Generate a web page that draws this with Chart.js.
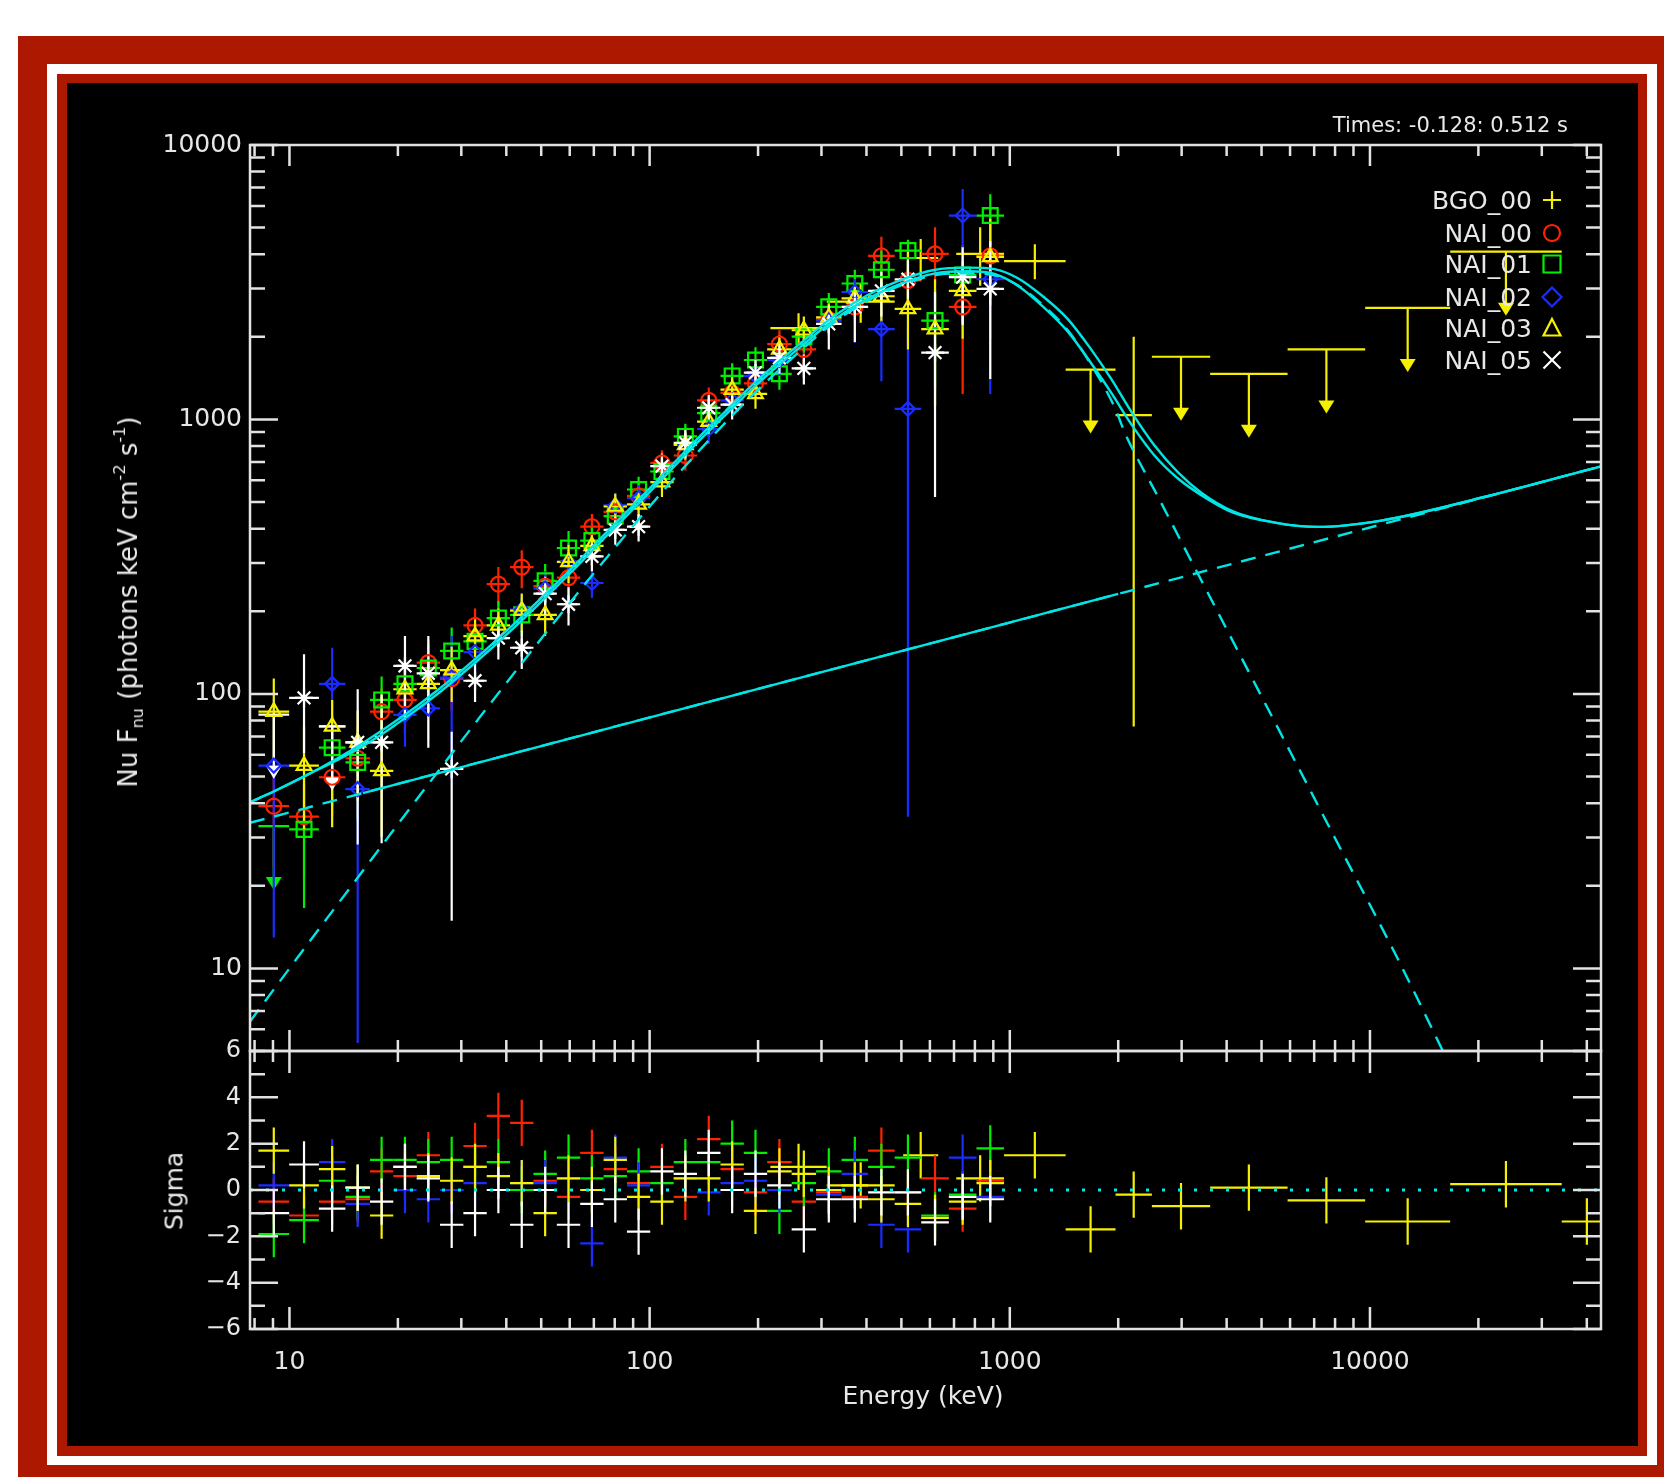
<!DOCTYPE html>
<html><head><meta charset="utf-8">
<script src="https://cdn.jsdelivr.net/npm/chart.js@4.4.0/dist/chart.umd.min.js"></script>
<style>
html,body{margin:0;padding:0;background:#fff;}
#page{position:relative;width:1664px;height:1477px;overflow:hidden;background:#fff;font-family:"DejaVu Sans",sans-serif;}
.f{position:absolute;}
canvas{position:absolute;left:0;top:0;}
.t{position:absolute;white-space:nowrap;color:#e8e8e8;line-height:1;}
sub,sup{font-size:62%;line-height:0;}
sub{vertical-align:-0.35em;} sup{vertical-align:0.75em;}
</style></head>
<body><div id="page">
<div class="f" style="left:18px;top:36px;width:1646px;height:1441px;background:#ad1900"></div>
<div class="f" style="left:47px;top:64px;width:1610px;height:1401px;background:#fff"></div>
<div class="f" style="left:57px;top:74px;width:1590px;height:1382px;background:#ad1900"></div>
<div class="f" style="left:67px;top:83px;width:1571px;height:1363px;background:#000"></div>
<canvas id="main" width="1664" height="1477"></canvas>
<canvas id="resid" width="1664" height="1477"></canvas>
<div class="t" style="right:96px;top:115px;font-size:21px;">Times: -0.128: 0.512 s</div>
<div class="t" style="right:132px;top:188px;font-size:25px;">BGO_00</div>
<div class="t" style="right:132px;top:221px;font-size:25px;">NAI_00</div>
<div class="t" style="right:132px;top:252px;font-size:25px;">NAI_01</div>
<div class="t" style="right:132px;top:285px;font-size:25px;">NAI_02</div>
<div class="t" style="right:132px;top:316px;font-size:25px;">NAI_03</div>
<div class="t" style="right:132px;top:348px;font-size:25px;">NAI_05</div>
<div class="t" style="left:128px;top:602px;transform:translate(-50%,-50%) rotate(-90deg);font-size:26px;">Nu F<sub>nu</sub> (photons keV cm<sup>-2</sup> s<sup>-1</sup>)</div>
<div class="t" style="left:174px;top:1191px;transform:translate(-50%,-50%) rotate(-90deg);font-size:25px;">Sigma</div>
<div class="t" style="left:923px;top:1383px;transform:translateX(-50%);font-size:25px;">Energy (keV)</div>
</div>
<script>
// ---------------- data ----------------
const xTickLabels = [10, 100, 1000, 10000];
const yTickLabels = [10, 100, 1000, 10000];
const residTickLabels = [-6, -4, -2, 0, 2, 4, 6];
const xRange = [7.77, 43800];
const yRange = [5, 10000];
const residRange = [-6, 6];

// NaI energy bin edges (keV)
const naiEdges = [8.2, 9.98, 12.07, 14.30, 16.73, 19.42, 22.55, 26.18, 30.40, 35.29, 40.97, 47.58, 55.26, 64.16, 74.50, 86.50, 100.4, 116.6, 135.4, 157.3, 182.6, 212.0, 247.9, 289.8, 341.1, 404.2, 479.0, 567.6, 677.3, 808.1, 963.9];

// rows: [bin, flux, fluxLow, fluxHigh, sigma]   (fluxLow null => upper limit)
const nai00 = [
 [0,39.0,23.3,50.1,-0.5],[1,35.7,21.5,49.7,-1.1],[2,49.7,35.7,60.9,-0.5],[3,58.3,35.7,76.2,-0.4],
 [4,86.2,66.0,104.9,0.8],[5,95.1,72.8,115.7,0.6],[6,130.0,99.5,158.2,1.5],[7,113.7,87.0,138.4,0.0],
 [8,177.6,148.6,204.8,1.9],[9,251.4,210.4,289.8,3.2],[10,289.8,242.5,334.1,2.9],[11,246.9,206.6,284.7,0.4],
 [12,265.1,221.8,305.7,-0.3],[13,406.7,358.9,452.7,1.6],[14,460.6,406.5,512.7,0.9],[15,526.5,464.7,586.0,0.3],
 [16,694.2,612.7,772.6,1.0],[17,739,652.3,822.5,-0.3],[18,1174,1036,1307,2.2],[19,1250,1103,1391,0.9],
 [20,1354,1195,1507,-0.1],[21,1883,1647,2115,1.2],[22,1800,1575,2021,-0.5],[23,2312,2023,2596,-0.1],
 [24,2572,2250,2888,-0.3],[25,3944,3183,4630,1.7],[26,3213,2593,3772,-0.1],[27,4014,3073,5016,0.5],
 [28,2572,1239,3242,-0.8],[29,3944,1968,5946,0.4]
];
const nai01 = [
 [0,33.0,null,null,-1.9],[1,32.1,16.6,46.7,-1.3],[2,63.7,39.0,83.3,0.4],[3,56.3,34.5,73.6,-0.3],
 [4,95.1,72.8,115.7,1.3],[5,108.8,83.2,132.4,1.3],[6,124.3,95.1,151.3,1.2],[7,143.4,109.7,174.5,1.3],
 [8,155.4,130.0,179.2,1.0],[9,189.0,158.2,217.9,1.2],[10,194.1,162.4,223.8,0.0],[11,258.2,216.1,297.7,0.7],
 [12,340.2,284.7,392.3,1.4],[13,362.1,319.6,403.0,0.5],[14,444.6,392.3,494.8,0.6],[15,555.6,490.4,618.4,0.8],
 [16,646.3,570.4,719.3,0.3],[17,867.4,765.6,965.5,1.2],[18,1055,931.2,1174,1.2],[19,1441,1272,1604,2.0],
 [20,1647,1454,1833,1.6],[21,1467,1283,1648,-0.9],[22,2003,1752,2249,0.3],[23,2572,2250,2888,0.8],
 [24,3129,2738,3514,1.3],[25,3512,2835,4123,1.0],[26,4124,2737,4514,1.4],[27,2291,1294,2991,-1.1],
 [28,3360,2249,4314,-0.2],[29,5534,4312,6618,1.8]
];
const nai02 = [
 [0,54.8,12.95,95.9,0.2],[2,108.8,46.3,147.3,1.2],[3,45.0,5.35,66.6,-0.6],[5,83.9,64.2,102.1,0.0],
 [6,88.6,67.8,107.8,-0.4],[7,114.7,48.8,162.4,0.0],[8,142.1,118.9,163.8,0.3],[10,202.9,169.8,233.9,0.3],
 [11,242.5,202.9,279.6,0.3],[12,303.0,253.6,349.4,0.5],[13,253.6,223.8,282.2,-2.3],[14,486,429,541,1.4],
 [15,517.2,456.5,575.6,0.2],[17,807.5,712.7,898.7,0.5],[18,923,814.7,1027,-0.1],[19,1174,1036,1307,0.3],
 [20,1441,1272,1604,0.4],[21,1647,1441,1850,0.0],[23,2291,2004,2573,-0.2],[24,2913,1900,3242,0.7],
 [25,2133,1378,2460,-1.5],[26,1093,35.7,2191,-1.7],[28,5534,4087,6912,1.4],[29,3242,1239,4014,-0.3]
];
const nai03 = [
 [0,86.2,58.3,113.7,1.7],[1,54.8,32.1,76.1,0.2],[2,76.1,32.7,95.1,0.9],[3,66.6,40.8,87.0,0.1],
 [4,52.4,30.2,97.7,-1.1],[5,104.0,79.6,126.6,1.0],[6,108.8,83.2,132.4,0.6],[7,122.1,93.4,148.6,0.4],
 [8,162.4,135.9,187.2,1.0],[9,177.6,148.6,204.8,0.6],[10,201.1,168.3,231.9,0.3],[11,194.1,162.4,223.8,-1.0],
 [12,303.0,253.6,349.4,0.5],[13,346.3,305.6,385.4,0.0],[14,481.7,425.1,536.0,1.3],[15,490.3,432.8,545.8,-0.3],
 [16,591.1,521.6,658.0,-0.5],[17,807.5,712.7,898.7,0.5],[18,982,867,1093,0.5],[19,1284,1133,1429,1.1],
 [20,1239,1094,1379,-0.9],[21,1800,1575,2021,0.8],[22,2114,1850,2374,0.7],[23,2353,2059,2642,0.0],
 [24,2762,2416,3102,0.2],[25,2811,2269,3300,-0.4],[26,2527,1800,4087,-0.6],[27,2133,1123,3242,-1.2],
 [28,2939,1967,3774,-0.5],[29,3909,2595,5388,0.3]
];
const nai05 = [
 [0,84.0,null,null,-1.0],[1,96.8,60.9,139.6,1.1],[2,76.1,null,null,-0.8],[3,66.6,28.3,104.0,0.1],
 [4,66.6,28.6,99.5,-0.5],[5,126.6,78.9,162.4,1.0],[6,118.9,63.7,162.4,0.5],[7,53.3,14.9,72.8,-1.5],
 [8,111.7,93.5,128.8,-1.0],[9,159.6,133.5,184.0,0.0],[10,147.3,123.3,169.8,-1.5],[11,231.9,194.1,267.4,0.0],
 [12,212.2,177.6,244.7,-1.5],[13,316.8,279.6,352.6,-0.6],[14,395.9,349.4,440.6,-0.4],[15,406.7,359.0,452.7,-1.8],
 [16,675.7,596.3,752.0,0.8],[17,822,725.5,915,0.7],[18,1103,973.5,1228,1.6],[19,1133,1000,1261,0.0],
 [20,1481,1307,1648,0.7],[21,1677,1467,1883,0.2],[22,1534,1342,1723,-1.7],[23,2230,1800,2597,-0.4],
 [24,2572,1917,3073,-0.4],[25,2939,2372,3450,-0.1],[26,3242,2617,3806,-0.1],[27,1753,521.9,2913,-1.4],
 [28,3301,2209,4238,-0.3],[29,2992,1403,4468,-0.4]
];
// BGO rows: [eLow, eHigh, flux, fluxLow, fluxHigh, sigma]
const bgo00 = [
 [216.4,310.2,2152,1866,2438,1.0],[310.2,479.0,2689,2250,3129,0.2],[505.7,632.8,3875,3213,4547,1.5],
 [710.2,963.9,4014,3073,5016,0.5],[963.9,1429,3773,3242,4350,1.5],[1429,1966,1520,null,null,-1.7],
 [1966,2480,1037,76.1,2003,-0.2],[2480,3600,1692,null,null,-0.7],[3600,5906,1467,null,null,0.1],
 [5906,9699,1800,null,null,-0.45],[9699,16700,2549,null,null,-1.36],[16700,34070,4087,null,null,0.25],
 [34070,47000,null,null,null,-1.36]
];

// model curves
const modelE = [7.77,9.07,11.3,13.6,15.8,17.8,20.1,22.7,25.5,29.2,33.0,37.3,42.4,48.6,55.6,63.7,73.0,85.3,100.4,117.4,137.3,161.6,190.2,223.8,263,325,403,499,616,765,907,1053,1223,1449,1682,1914,2178,2529,2936,3409,4150,5447,7145,10740,21180,43800];
const totalA = [40.3,44.2,51.0,58.3,65.6,72.6,81.0,90.8,102,117.8,135,155.7,181.8,215.4,256,306,368.6,452.6,564,698.8,863.6,1064,1314,1591,1900,2380,2840,3225,3505,3575,3531,3270,2840,2321,1800,1403,1064,800,640,540,464,421,406,428,525,675];
const totalB = [40.3,44.2,51.0,57.5,64.0,70.4,78.6,88.1,98.9,114.3,131,151,176.3,209,248.3,296.8,357.5,439,547,677.8,837.7,1032,1275,1543,1843,2309,2755,3128,3400,3468,3390,3070,2610,2089,1602,1249,958,736,608,529,459,421,406,428,525,675];
const bandE = [7.77,10,15,20,30,50,70,100,150,200,263,325,403,499,616,765,907,1053,1223,1449,1682,1953,2104,2293,2529,2781,3409,5000,8000,12000,17000];
const bandV = [6.4,10.0,20.3,33.5,67.3,159,275,482,873,1284,1785,2257,2707,3082,3350,3408,3354,3080,2640,2114,1583,1110,871,697,549,432,258,97.9,29.8,10.7,4.2];
const plE = [7.77,10,100,1000,10000,43800];
const plV = [33.9,37.0,82.1,182,404,675];
const plSolidE = [16,2000];
const plSolidV = [43.5,231.6];
const zeroLineE = [7.77,43800];
const zeroLineV = [0,0];

// ---------------- styling ----------------
const AXIS = '#e2e2e2';
const CYAN = '#00e5e5';
const dets = [
  {name:'BGO_00', rows:bgo00, nai:false, color:'#f5f000', style:'cross', r:0, order:6},
  {name:'NAI_00', rows:nai00, nai:true, color:'#ff2200', style:'circle', r:7.5, order:5},
  {name:'NAI_01', rows:nai01, nai:true, color:'#00ee00', style:'rect', r:10.5, order:4},
  {name:'NAI_02', rows:nai02, nai:true, color:'#1a2cff', style:'rectRot', r:7, order:3},
  {name:'NAI_03', rows:nai03, nai:true, color:'#f5f000', style:'triangle', r:8.5, order:2},
  {name:'NAI_05', rows:nai05, nai:true, color:'#ffffff', style:'star', r:9, order:1}
];
dets.forEach(d => {
  d.full = d.nai ? d.rows.map(r => [naiEdges[r[0]], naiEdges[r[0]+1], r[1], r[2], r[3], r[4]]) : d.rows;
});

Chart.defaults.font.family = '"DejaVu Sans", sans-serif';
Chart.defaults.color = '#e6e6e6';

function logTicks(min, max, majors) {
  const out = [];
  for (let d = Math.floor(Math.log10(min)); d <= Math.ceil(Math.log10(max)); d++) {
    const base = Math.pow(10, d);
    for (let m = 1; m <= 9; m++) {
      const v = m * base;
      if (v < min * 0.9999 || v > max * 1.0001) continue;
      out.push({value: v, major: majors.includes(v)});
    }
  }
  return out;
}

const boxPlugin = {
  id: 'idlBox',
  afterDraw(chart, args, o) {
    const {ctx, chartArea: a} = chart;
    const sx = chart.scales.x, sy = chart.scales.y;
    ctx.save();
    ctx.strokeStyle = AXIS; ctx.lineWidth = 2.5;
    ctx.beginPath();
    for (const t of sx.ticks) {
      const p = sx.getPixelForValue(t.value);
      const L = t.major ? o.xMajor : o.xMinor;
      ctx.moveTo(p, a.top); ctx.lineTo(p, a.top + L);
      ctx.moveTo(p, a.bottom); ctx.lineTo(p, a.bottom - L);
    }
    for (const t of sy.ticks) {
      const p = sy.getPixelForValue(t.value);
      const L = t.major ? o.yMajor : o.yMinor;
      ctx.moveTo(a.left, p); ctx.lineTo(a.left + L, p);
      ctx.moveTo(a.right, p); ctx.lineTo(a.right - L, p);
    }
    ctx.stroke();
    ctx.strokeRect(a.left, a.top, a.right - a.left, a.bottom - a.top);
    ctx.restore();
  }
};

const errPlugin = {
  id: 'errBars',
  beforeDatasetsDraw(chart, args, o) {
    const {ctx, chartArea: a} = chart;
    const sx = chart.scales.x, sy = chart.scales.y;
    ctx.save();
    ctx.beginPath(); ctx.rect(a.left, a.top, a.right - a.left, a.bottom - a.top); ctx.clip();
    ctx.lineWidth = 2.2;
    for (const d of dets) {
      ctx.strokeStyle = d.color; ctx.fillStyle = d.color;
      for (const r of d.full) {
        const [eLo, eHi, f, lo, hi, s] = r;
        const x1 = sx.getPixelForValue(eLo), x2 = sx.getPixelForValue(eHi);
        const xc = sx.getPixelForValue(Math.sqrt(eLo * eHi));
        ctx.beginPath();
        if (o.mode === 'flux') {
          if (f == null) continue;
          const y = sy.getPixelForValue(f);
          ctx.moveTo(x1, y); ctx.lineTo(x2, y);
          if (lo == null) {
            const tip = y + 64;
            ctx.moveTo(xc, y); ctx.lineTo(xc, tip - 10);
            ctx.stroke();
            ctx.beginPath();
            ctx.moveTo(xc - 8, tip - 13); ctx.lineTo(xc + 8, tip - 13); ctx.lineTo(xc, tip); ctx.closePath();
            ctx.fill();
            continue;
          }
          ctx.moveTo(xc, sy.getPixelForValue(hi)); ctx.lineTo(xc, sy.getPixelForValue(lo));
        } else {
          const y = sy.getPixelForValue(s);
          ctx.moveTo(x1, y); ctx.lineTo(x2, y);
          ctx.moveTo(xc, sy.getPixelForValue(s + 1)); ctx.lineTo(xc, sy.getPixelForValue(s - 1));
        }
        ctx.stroke();
      }
    }
    ctx.restore();
  }
};

const legendMarks = {
  id: 'legendMarks',
  afterDraw(chart) {
    const ctx = chart.ctx;
    const x = 1552, ys = [200, 233, 264, 297, 328, 360];
    ctx.save(); ctx.lineWidth = 2.2;
    dets.forEach((d, i) => {
      const y = ys[i];
      ctx.strokeStyle = d.color;
      ctx.beginPath();
      if (i === 0) { ctx.moveTo(x - 9, y); ctx.lineTo(x + 9, y); ctx.moveTo(x, y - 9); ctx.lineTo(x, y + 9); }
      else if (i === 1) { ctx.arc(x, y, 8, 0, Math.PI * 2); }
      else if (i === 2) { ctx.rect(x - 8.5, y - 8.5, 17, 17); }
      else if (i === 3) { ctx.moveTo(x, y - 9.5); ctx.lineTo(x + 9.5, y); ctx.lineTo(x, y + 9.5); ctx.lineTo(x - 9.5, y); ctx.closePath(); }
      else if (i === 4) { ctx.moveTo(x, y - 9); ctx.lineTo(x + 8.5, y + 7.5); ctx.lineTo(x - 8.5, y + 7.5); ctx.closePath(); }
      else { ctx.moveTo(x - 8.5, y - 8.5); ctx.lineTo(x + 8.5, y + 8.5); ctx.moveTo(x + 8.5, y - 8.5); ctx.lineTo(x - 8.5, y + 8.5); }
      ctx.stroke();
    });
    ctx.restore();
  }
};

function pts(xs, ys) { return xs.map((x, i) => ({x, y: ys[i]})); }

// ---------------- main panel ----------------
const mainSets = [
  {data: pts(modelE, totalA), showLine: true, pointRadius: 0, borderColor: CYAN, borderWidth: 2.4, cubicInterpolationMode: 'monotone', order: 0},
  {data: pts(modelE, totalB), showLine: true, pointRadius: 0, borderColor: CYAN, borderWidth: 2.4, cubicInterpolationMode: 'monotone', order: 0},
  {data: pts(bandE, bandV), showLine: true, pointRadius: 0, borderColor: CYAN, borderWidth: 2.4, borderDash: [15, 10], cubicInterpolationMode: 'monotone', order: 0},
  {data: pts(plE, plV), showLine: true, pointRadius: 0, borderColor: CYAN, borderWidth: 2.4, borderDash: [15, 10], tension: 0, order: 0},
  {data: pts(plSolidE, plSolidV), showLine: true, pointRadius: 0, borderColor: CYAN, borderWidth: 2.4, tension: 0, order: 0}
];
dets.forEach(d => {
  mainSets.push({
    label: d.name,
    data: d.full.map(r => ({x: Math.sqrt(r[0] * r[1]), y: (r[3] == null ? null : r[2])})),
    showLine: false, pointStyle: d.style, pointRadius: d.r, pointBorderWidth: 2.2,
    borderColor: d.color, backgroundColor: 'rgba(0,0,0,0)', order: d.order
  });
});

new Chart(document.getElementById('main'), {
  type: 'scatter',
  data: {datasets: mainSets},
  options: {
    responsive: false, animation: false, devicePixelRatio: 1,
    layout: {padding: {left: 0, top: 145, right: 63, bottom: 0}},
    plugins: {legend: {display: false}, tooltip: {enabled: false},
      idlBox: {xMajor: 21, xMinor: 11, yMajor: 28, yMinor: 15},
      errBars: {mode: 'flux'}},
    scales: {
      x: {type: 'logarithmic', min: xRange[0], max: xRange[1],
        grid: {display: false, drawTicks: false}, border: {display: false},
        ticks: {display: false},
        afterBuildTicks: s => { s.ticks = logTicks(xRange[0], xRange[1], xTickLabels); },
        afterFit: s => { s.height = 426; }},
      y: {type: 'logarithmic', min: yRange[0], max: yRange[1],
        grid: {display: false, drawTicks: false}, border: {display: false},
        ticks: {autoSkip: false, padding: 8, font: {size: 25}, color: '#e6e6e6',
          callback: v => yTickLabels.includes(v) ? String(v) : ''},
        afterBuildTicks: s => { s.ticks = logTicks(yRange[0], yRange[1], yTickLabels); },
        afterFit: s => { s.width = 250; }}
    }
  },
  plugins: [errPlugin, boxPlugin, legendMarks]
});

// ---------------- residual panel ----------------
new Chart(document.getElementById('resid'), {
  type: 'scatter',
  data: {datasets: [
    {data: pts(zeroLineE, zeroLineV), showLine: true, pointRadius: 0, borderColor: CYAN, borderWidth: 3, borderDash: [3, 13], tension: 0}
  ]},
  options: {
    responsive: false, animation: false, devicePixelRatio: 1,
    layout: {padding: {left: 0, top: 1051, right: 63, bottom: 0}},
    plugins: {legend: {display: false}, tooltip: {enabled: false},
      idlBox: {xMajor: 22, xMinor: 11, yMajor: 28, yMinor: 15},
      errBars: {mode: 'resid'}},
    scales: {
      x: {type: 'logarithmic', min: xRange[0], max: xRange[1],
        grid: {display: false, drawTicks: false}, border: {display: false},
        ticks: {autoSkip: false, maxRotation: 0, padding: 18, font: {size: 25}, color: '#e6e6e6',
          callback: v => xTickLabels.includes(v) ? String(v) : ''},
        afterBuildTicks: s => { s.ticks = logTicks(xRange[0], xRange[1], xTickLabels); },
        afterFit: s => { s.height = 148; }},
      y: {type: 'linear', min: residRange[0], max: residRange[1],
        grid: {display: false, drawTicks: false}, border: {display: false},
        ticks: {autoSkip: false, padding: 9, font: {size: 24}, color: '#e6e6e6',
          callback: v => residTickLabels.includes(v) ? (v < 0 ? '\u2212' + Math.abs(v) : String(v)) : ''},
        afterBuildTicks: s => {
          const t = [];
          for (let v = residRange[0]; v <= residRange[1]; v++) t.push({value: v, major: residTickLabels.includes(v)});
          s.ticks = t;
        },
        afterFit: s => { s.width = 250; }}
    }
  },
  plugins: [errPlugin, boxPlugin]
});
</script>
</body></html>
